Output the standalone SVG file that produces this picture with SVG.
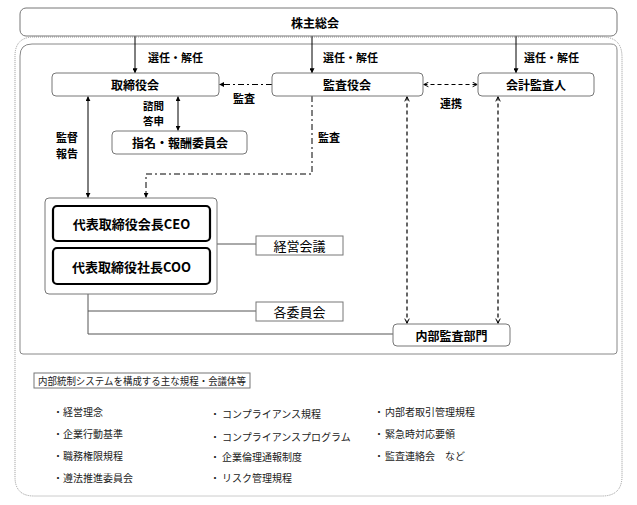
<svg xmlns="http://www.w3.org/2000/svg" width="637" height="505" viewBox="0 0 637 505">
<defs>
<marker id="af" viewBox="0 0 8 8" refX="7.5" refY="4" markerWidth="5" markerHeight="5" orient="auto-start-reverse" markerUnits="userSpaceOnUse"><path d="M0,0 L8,4 L0,8 z" fill="#000"/></marker>
<marker id="ao" viewBox="0 0 8 8" refX="7.5" refY="4" markerWidth="6" markerHeight="6" orient="auto-start-reverse" markerUnits="userSpaceOnUse"><path d="M1,1 L7,4 L1,7" fill="none" stroke="#000" stroke-width="1.3"/></marker>
</defs>
<style>
.bx{fill:#fff;stroke:#777;stroke-width:1}
.bd{fill:#fff;stroke:#000;stroke-width:2.2}
.t{font-family:"Noto Sans CJK JP","Noto Sans CJK SC",sans-serif;fill:#000}
.b{font-weight:bold;font-size:12px}
.lb{font-weight:bold;font-size:11px}
.n{font-size:10px;fill:#222}
.sol{stroke:#000;stroke-width:1;fill:none}
.dd{stroke:#000;stroke-width:1;fill:none;stroke-dasharray:6 3 2 3}
.ds{stroke:#000;stroke-width:1.2;fill:none;stroke-dasharray:4 3}
.gl{stroke:#555;stroke-width:1;fill:none}
</style>
<rect width="637" height="505" fill="#fff"/>
<!-- outer dotted -->
<path d="M34,37 H602 Q622,37 622,57 V476 Q622,496 602,496 H34 Q15,496 15,477 V56 Q15,37 34,37 Z" fill="none" stroke="#999" stroke-width="1" stroke-dasharray="1 1"/>
<!-- inner solid -->
<path d="M32,44 H611 Q617,44 617,50 V351 Q617,354 614,354 H23 Q20,354 20,351 V56 Q20,44 32,44 Z" fill="none" stroke="#888" stroke-width="1"/>

<g id="connectors">
<line class="sol" x1="135" y1="36" x2="135" y2="73" marker-end="url(#af)"/>
<line class="sol" x1="312" y1="36" x2="312" y2="73" marker-end="url(#af)"/>
<line class="sol" x1="516" y1="36" x2="516" y2="73" marker-end="url(#af)"/>
<line class="dd" x1="272" y1="84.5" x2="219.5" y2="84.5" marker-end="url(#af)"/>
<line class="sol" x1="178" y1="96.5" x2="178" y2="130.5" marker-start="url(#af)" marker-end="url(#af)"/>
<line class="sol" x1="88" y1="96.5" x2="88" y2="197.5" marker-start="url(#af)" marker-end="url(#af)"/>
<path class="dd" d="M312,96 V174 H146 V197.5" marker-end="url(#af)"/>
<line class="ds" x1="423.5" y1="84.5" x2="477.5" y2="84.5" marker-start="url(#ao)" marker-end="url(#ao)"/>
<line class="ds" x1="407" y1="96.5" x2="407" y2="323.5" marker-start="url(#ao)" marker-end="url(#ao)"/>
<line class="ds" x1="498" y1="96.5" x2="498" y2="323.5" marker-start="url(#ao)" marker-end="url(#ao)"/>
<line class="gl" x1="88" y1="241" x2="88" y2="248"/>
<line class="gl" x1="217" y1="244" x2="256" y2="244"/>
<path class="gl" d="M88,284 V334 H393"/>
<line class="gl" x1="88" y1="311" x2="256" y2="311"/>
</g>

<g class="t lb">
<text x="148" y="57" dominant-baseline="central">選任・解任</text>
<text x="323" y="57" dominant-baseline="central">選任・解任</text>
<text x="524" y="57" dominant-baseline="central">選任・解任</text>
<text x="233" y="98" dominant-baseline="central">監査</text>
<text x="143" y="105" font-size="10.5" dominant-baseline="central">諮問</text>
<text x="143" y="120.5" font-size="10.5" dominant-baseline="central">答申</text>
<text x="56" y="137" dominant-baseline="central">監督</text>
<text x="56" y="153" dominant-baseline="central">報告</text>
<text x="318" y="137" dominant-baseline="central">監査</text>
<text x="440" y="103" dominant-baseline="central">連携</text>
</g>

<g id="n-kabunushi"><rect class="bx" x="20" y="8" width="597" height="28" rx="6"/><text class="t b" x="315" y="22" text-anchor="middle" dominant-baseline="central">株主総会</text></g>
<g id="n-torishimari"><rect class="bx" x="52" y="73" width="167" height="23" rx="4"/><text class="t b" x="135" y="84.5" text-anchor="middle" dominant-baseline="central">取締役会</text></g>
<g id="n-kansayaku"><rect class="bx" x="272" y="73" width="151" height="23" rx="4"/><text class="t b" x="347" y="84.5" text-anchor="middle" dominant-baseline="central">監査役会</text></g>
<g id="n-kaikei"><rect class="bx" x="478" y="73" width="116" height="23" rx="4"/><text class="t b" x="536" y="84.5" text-anchor="middle" dominant-baseline="central">会計監査人</text></g>
<g id="n-shimei"><rect class="bx" x="112" y="131" width="135" height="23" rx="4"/><text class="t b" x="180" y="142.5" text-anchor="middle" dominant-baseline="central">指名・報酬委員会</text></g>
<g id="n-top"><rect class="bx" x="45" y="198" width="172" height="96" rx="4"/></g>
<g id="n-ceo"><rect class="bd" x="53" y="206" width="157" height="35" rx="4"/><text class="t" font-weight="bold" font-size="13" x="131.5" y="223.5" text-anchor="middle" dominant-baseline="central">代表取締役会長CEO</text></g>
<g id="n-coo"><rect class="bd" x="53" y="248" width="157" height="36" rx="4"/><text class="t" font-weight="bold" font-size="13" x="131.5" y="266" text-anchor="middle" dominant-baseline="central">代表取締役社長COO</text></g>
<g id="n-keiei"><rect class="bx" x="256" y="236" width="87" height="19"/><text class="t" font-size="13" fill="#333" x="299.5" y="245.5" text-anchor="middle" dominant-baseline="central">経営会議</text></g>
<g id="n-kakuiin"><rect class="bx" x="256" y="302" width="87" height="19"/><text class="t" font-size="13" fill="#333" x="299.5" y="311.5" text-anchor="middle" dominant-baseline="central">各委員会</text></g>
<g id="n-naibu"><rect class="bx" x="393" y="324" width="117" height="22" rx="4"/><text class="t b" font-size="12.5" x="451.5" y="335" text-anchor="middle" dominant-baseline="central">内部監査部門</text></g>

<g id="rules">
<rect class="bx" x="34" y="373" width="216" height="15"/>
<text class="t n" x="38" y="380.5" textLength="208" lengthAdjust="spacingAndGlyphs" dominant-baseline="central">内部統制システムを構成する主な規程・会議体等</text>
<g class="t n">
<text x="53" y="411" dominant-baseline="central">・</text><text x="63" y="411" dominant-baseline="central">経営理念</text>
<text x="53" y="433" dominant-baseline="central">・</text><text x="63" y="433" dominant-baseline="central">企業行動基準</text>
<text x="53" y="455" dominant-baseline="central">・</text><text x="63" y="455" dominant-baseline="central">職務権限規程</text>
<text x="53" y="477" dominant-baseline="central">・</text><text x="63" y="477" dominant-baseline="central">遵法推進委員会</text>
<text x="210" y="413" dominant-baseline="central">・</text><text x="222" y="413" dominant-baseline="central">コンプライアンス規程</text>
<text x="210" y="436" dominant-baseline="central">・</text><text x="222" y="436" dominant-baseline="central">コンプライアンスプログラム</text>
<text x="210" y="456" dominant-baseline="central">・</text><text x="222" y="456" dominant-baseline="central">企業倫理通報制度</text>
<text x="210" y="477" dominant-baseline="central">・</text><text x="222" y="477" dominant-baseline="central">リスク管理規程</text>
<text x="374" y="411" dominant-baseline="central">・</text><text x="385" y="411" dominant-baseline="central">内部者取引管理規程</text>
<text x="374" y="433" dominant-baseline="central">・</text><text x="385" y="433" dominant-baseline="central">緊急時対応要領</text>
<text x="374" y="455" dominant-baseline="central">・</text><text x="385" y="455" dominant-baseline="central">監査連絡会　など</text>
</g>
</g>
</svg>
